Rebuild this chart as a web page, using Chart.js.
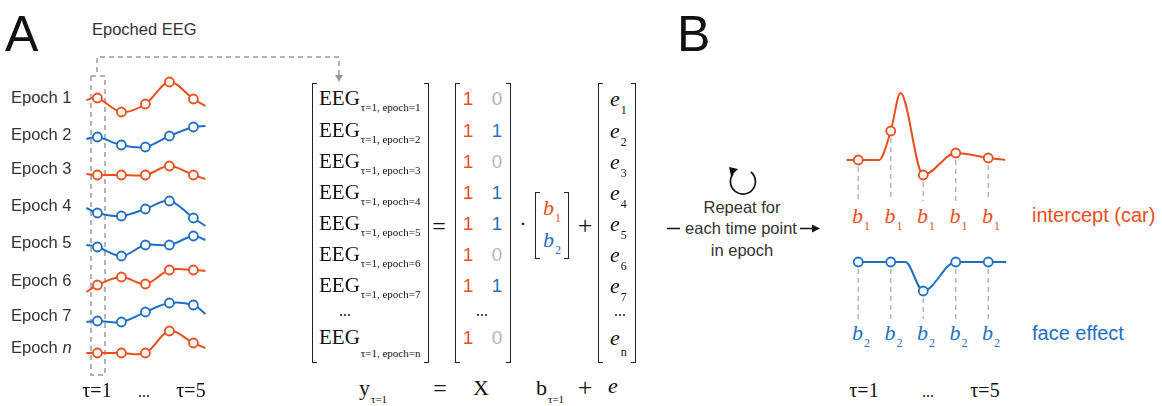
<!DOCTYPE html>
<html>
<head>
<meta charset="utf-8">
<script src="https://cdn.jsdelivr.net/npm/chart.js@4.4.1/dist/chart.umd.min.js"></script>
<style>
body { margin: 0; background: #fff; }
#wrap { position: relative; width: 1162px; height: 406px; overflow: hidden; font-family: "Liberation Sans", Arial, sans-serif; color: #333; }
.t { position: absolute; white-space: nowrap; line-height: 1; transform: translate(0, -50%); }
.c { transform: translate(-50%, -50%); }
.serif { font-family: "Liberation Serif", "DejaVu Serif", serif; color: #111; }
.sub { position: relative; font-size: 11px; top: 6px; margin-left: 1px; }
canvas { position: absolute; }
svg { position: absolute; left: 0; top: 0; }
.br { position: absolute; border: 1.5px solid #222; width: 5px; box-sizing: border-box; }
.brl { border-right: none; }
.brr { border-left: none; }
</style>
</head>
<body>
<div id="wrap">
  <svg width="1162" height="406">
    <!-- epoch selection box and link to the matrix -->
    <g stroke="#9a9a9a" stroke-width="1.5" fill="none" stroke-dasharray="5,4">
      <rect x="91" y="76" width="14" height="299"/>
      <path d="M97,72 V57 H339 V75"/>
    </g>
    <path d="M335,75 L343,75 L339,82 Z" fill="#9a9a9a"/>
    <!-- repeat arrow -->
    <path d="M751,172 A12.5,12.5 0 1 1 733,174" stroke="#111" stroke-width="1.7" fill="none"/>
    <path d="M729,167 L738,169 L731,176 Z" fill="#111"/>
    <line x1="667" y1="228.5" x2="680" y2="228.5" stroke="#111" stroke-width="1.5"/>
    <line x1="800" y1="228.5" x2="814" y2="228.5" stroke="#111" stroke-width="1.5"/>
    <path d="M812,224.5 L820,228.5 L812,232.5 Z" fill="#111"/>
  </svg>

  <div class="t" style="left:5px;top:34px;font-size:50px;color:#111">A</div>
  <div class="t" style="left:92px;top:29px;font-size:16.5px">Epoched EEG</div>
  <div class="t" style="left:677px;top:34px;font-size:50px;color:#111">B</div>

  <div class="t c" style="left:742px;top:207px;font-size:16.5px">Repeat for</div>
  <div class="t c" style="left:741px;top:228px;font-size:16.5px">each time point</div>
  <div class="t c" style="left:742px;top:250px;font-size:16.5px">in epoch</div>

  <div class="t" style="left:1032px;top:215px;font-size:20px;color:#e8501e">intercept (car)</div>
  <div class="t" style="left:1032px;top:333px;font-size:20px;color:#1f6fc2">face effect</div>

  <!-- matrix brackets -->
  <div class="br brl" style="left:312px;top:83px;height:280px"></div>
  <div class="br brr" style="left:424px;top:83px;height:280px"></div>
  <div class="br brl" style="left:455px;top:83px;height:280px"></div>
  <div class="br brr" style="left:506px;top:83px;height:280px"></div>
  <div class="br brl" style="left:535px;top:192px;height:67px"></div>
  <div class="br brr" style="left:564px;top:192px;height:67px"></div>
  <div class="br brl" style="left:598px;top:83px;height:280px"></div>
  <div class="br brr" style="left:631px;top:83px;height:280px"></div>

  <div class="t c serif" style="left:439px;top:226px;font-size:24px">=</div>
  <div class="t c serif" style="left:523px;top:224px;font-size:22px">·</div>
  <div class="t c serif" style="left:585px;top:226px;font-size:26px">+</div>
  <div class="t serif" style="left:543px;top:208px;font-size:22px;color:#e8501e"><i>b</i><span class="sub" style="top:7px;font-size:12px">1</span></div>
  <div class="t serif" style="left:543px;top:240px;font-size:22px;color:#1f6fc2"><i>b</i><span class="sub" style="top:7px;font-size:12px">2</span></div>

  <!-- bottom equation -->
  <div class="t serif" style="left:359px;top:388px;font-size:22px">y<span class="sub" style="top:8px">τ=1</span></div>
  <div class="t c serif" style="left:440px;top:388px;font-size:24px">=</div>
  <div class="t c serif" style="left:481px;top:388px;font-size:22px">X</div>
  <div class="t serif" style="left:536px;top:388px;font-size:22px">b<span class="sub" style="top:8px">τ=1</span></div>
  <div class="t c serif" style="left:585px;top:388px;font-size:26px">+</div>
  <div class="t c serif" style="left:613px;top:386px;font-size:22px"><i>e</i></div>
</div>

<script>
// epochs (car = 0, face = 1)
const epochNames = ['1', '2', '3', '4', '5', '6', '7', 'n'];
const faceCondition = [0, 1, 0, 1, 1, 0, 1, 0];

// time axis of each epoch trace (integer = sampled time point)
const epochTimes = [0.54, 1, 2, 3, 4, 5, 5.5];
const epoch1 = [-3, -1, -15, -7, 15, -2, -9];
const epoch2 = [-3, -1, -9, -11, 0, 9, 10];
const epoch3 = [-2, -3, -3, -3, 6, -3, -7];
const epoch4 = [4, -1, -4, 3, 11, -6, -14];
const epoch5 = [1, -1, -10, 1, 1, 10, 6];
const epoch6 = [-12, -5, 3, -4, 10, 10, 9];
const epoch7 = [-9, -8, -9, 1, 10, 8, -1];
const epochN = [-8, -8, -8, -8, 14, 2, -3];
const epochValues = [epoch1, epoch2, epoch3, epoch4, epoch5, epoch6, epoch7, epochN];

// regression weights over time
const interceptTimes = [0.64, 1, 1.64, 2, 2.3, 3, 4, 5, 5.52];
const interceptValues = [0, 0, 0, 29, 67, -15, 7, 2, 0];
const faceTimes = [0.88, 1, 2, 2.45, 3, 4, 5, 5.55];
const faceValues = [0, 0, 0, 0, -29, 0, 0, 0];

const timeTicks = ['τ=1', '...', 'τ=5'];

const ORANGE = '#e8501e';
const BLUE = '#1f6fc2';
const wrap = document.getElementById('wrap');

function addText(html, x, y, style, cls) {
    const d = document.createElement('div');
    d.className = 't ' + (cls || '');
    d.style.cssText = 'left:' + x + 'px;top:' + y + 'px;' + style;
    d.innerHTML = html;
    wrap.appendChild(d);
    return d;
}

function trace(times, values, color, tension, mode) {
    return {
        data: times.map((t, i) => ({ x: t, y: values[i] })),
        borderColor: color,
        borderWidth: 2,
        pointRadius: times.map(t => Number.isInteger(t) ? 4.5 : 0),
        pointBorderWidth: 1.8,
        pointBorderColor: color,
        pointBackgroundColor: '#fff',
        tension: tension,
        cubicInterpolationMode: mode || 'default',
        clip: false
    };
}

function lineChart(box, xr, yr, datasets, plugins) {
    const cv = document.createElement('canvas');
    cv.width = box.w;
    cv.height = box.h;
    cv.style.left = box.x + 'px';
    cv.style.top = box.y + 'px';
    wrap.appendChild(cv);
    return new Chart(cv.getContext('2d'), {
        type: 'line',
        data: { datasets: datasets },
        options: {
            responsive: false,
            animation: false,
            events: [],
            layout: { padding: 0 },
            plugins: { legend: { display: false }, tooltip: { enabled: false } },
            scales: {
                x: { type: 'linear', display: false, min: xr[0], max: xr[1] },
                y: { display: false, min: yr[0], max: yr[1] }
            }
        },
        plugins: plugins || []
    });
}

// dashed drop lines from each sampled point down to its weight label
const dropLines = {
    id: 'dropLines',
    beforeDatasetsDraw(chart) {
        const ctx = chart.ctx;
        const pts = chart.getDatasetMeta(0).data;
        const raw = chart.data.datasets[0].data;
        ctx.save();
        ctx.strokeStyle = '#b8b8b8';
        ctx.lineWidth = 1.5;
        ctx.setLineDash([5, 4]);
        pts.forEach((p, i) => {
            if (!Number.isInteger(raw[i].x)) return;
            ctx.beginPath();
            ctx.moveTo(p.x, p.y + 7);
            ctx.lineTo(p.x, chart.chartArea.bottom - 1);
            ctx.stroke();
        });
        ctx.restore();
    }
};

// ---- panel A: epoch traces ----
const rowCenters = [97, 136, 172, 212, 246, 280, 313, 345];
const labelRows = [97, 134, 168, 205, 242, 280, 315, 347];
const epPx = 24, epX1 = 97, epXmin = 0.4, epW = 126;
epochValues.forEach((vals, i) => {
    const color = faceCondition[i] ? BLUE : ORANGE;
    lineChart({ x: epX1 - (1 - epXmin) * epPx, y: rowCenters[i] - 24, w: epW, h: 48 },
        [epXmin, epXmin + epW / epPx], [-24, 24],
        [trace(epochTimes, vals, color, 0.35)]);
    const name = epochNames[i] === 'n' ? '<i>n</i>' : epochNames[i];
    addText('Epoch ' + name, 11, labelRows[i], 'font-size:16.5px');
});
addText(timeTicks[0], 97, 390, 'font-size:20px', 'c serif');
addText(timeTicks[1], 144, 392, 'font-size:16px', 'c serif');
addText(timeTicks[2], 191, 390, 'font-size:20px', 'c serif');

// ---- matrix equation ----
const matRows = [98, 130, 161, 192, 223, 254, 285];
epochNames.forEach((n, i) => {
    const y = i < 7 ? matRows[i] : 337;
    const last = i === 7;
    addText('EEG<span class="sub" style="top:' + (last ? 13 : 6) + 'px">τ=1, epoch=' + n + '</span>',
        319, y, 'font-size:21px', 'serif');
    addText('1', 468, y, 'font-size:19px;color:' + ORANGE, 'c');
    addText(String(faceCondition[i]), 497, y, 'font-size:19px;color:' + (faceCondition[i] ? BLUE : '#b3b3b3'), 'c');
    addText('<i>e</i><span class="sub" style="top:' + (last ? 11 : 8) + 'px;font-size:12px">' + n + '</span>',
        610, y + 1, 'font-size:22px', 'serif');
});
addText('...', 345, 311, 'font-size:16px', 'c serif');
addText('...', 482, 311, 'font-size:16px', 'c serif');
addText('...', 620, 311, 'font-size:16px', 'c serif');

// ---- panel B: weights over time ----
const bPx = 32.5, bX1 = 858, bXmin = 0.5, bW = 172;
const bXr = [bXmin, bXmin + bW / bPx];
const bLeft = bX1 - (1 - bXmin) * bPx;
const interceptChart = lineChart({ x: bLeft, y: 85, w: bW, h: 117 }, bXr, [-42, 75],
    [trace(interceptTimes, interceptValues, ORANGE, 0, 'monotone')], [dropLines]);
const faceChart = lineChart({ x: bLeft, y: 252, w: bW, h: 68 }, bXr, [-58, 10],
    [trace(faceTimes, faceValues, BLUE, 0, 'monotone')], [dropLines]);

[1, 2, 3, 4, 5].forEach(t => {
    const x1 = bLeft + interceptChart.scales.x.getPixelForValue(t);
    addText('<i>b</i><span class="sub" style="top:7px;font-size:12px">1</span>', x1 - 6, 216,
        'font-size:22px;color:' + ORANGE, 'serif');
    const x2 = bLeft + faceChart.scales.x.getPixelForValue(t);
    addText('<i>b</i><span class="sub" style="top:7px;font-size:12px">2</span>', x2 - 6, 333,
        'font-size:22px;color:' + BLUE, 'serif');
});
addText(timeTicks[0], 864, 390, 'font-size:20px', 'c serif');
addText(timeTicks[1], 928, 392, 'font-size:16px', 'c serif');
addText(timeTicks[2], 985, 390, 'font-size:20px', 'c serif');
</script>
</body>
</html>
